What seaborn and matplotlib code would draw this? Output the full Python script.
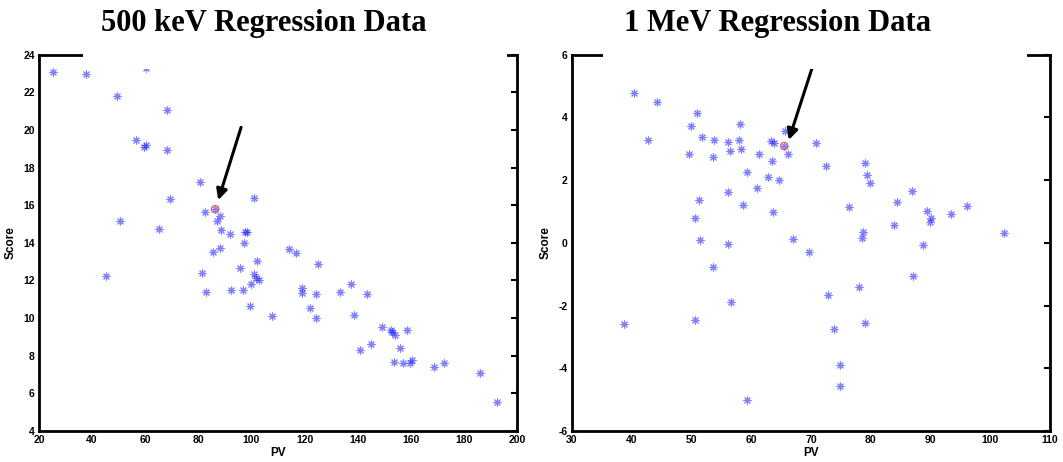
import numpy as np
import pandas as pd
import matplotlib
matplotlib.use("Agg")
import matplotlib.pyplot as plt
import seaborn as sns
from matplotlib.patches import Rectangle

# 500 keV panel
pv_500 = [25.4, 37.7, 49.2, 68.1, 56.6, 59.5, 60.2, 68.1, 80.6, 69.2, 100.8, 50.6,
          82.5, 86.3, 88.3, 86.9, 65.3, 88.6, 92.0, 97.6, 98.2, 60.2, 45.3, 85.6,
          88.3, 97.1, 81.5, 82.8, 92.2, 96.7, 95.8, 102.2, 101.0, 101.7, 102.9, 99.7,
          99.4, 107.8, 114.2, 116.9, 125.0, 119.1, 119.1, 124.2, 122.0, 124.2, 133.3,
          137.5, 143.5, 138.5, 149.3, 152.5, 153.0, 154.0, 158.4, 145.1, 140.7, 155.9,
          153.8, 157.2, 159.6, 160.6, 168.9, 172.5, 186.0, 192.4]
score_500 = [23.06, 22.99, 21.82, 21.06, 19.45, 19.10, 19.20, 18.91, 17.23, 16.33, 16.36, 15.15,
             15.65, 15.79, 15.42, 15.15, 14.74, 14.68, 14.45, 14.59, 14.59, 23.30, 12.23, 13.50,
             13.75, 13.97, 12.40, 11.41, 11.52, 11.48, 12.64, 13.06, 12.32, 12.14, 12.05, 11.82,
             10.62, 10.10, 13.67, 13.44, 12.85, 11.61, 11.36, 11.29, 10.56, 10.00, 11.41,
             11.79, 11.27, 10.14, 9.53, 9.39, 9.27, 9.11, 9.36, 8.63, 8.29, 8.41,
             7.67, 7.59, 7.64, 7.76, 7.39, 7.64, 7.07, 5.53]

# 1 MeV panel
pv_1m = [40.4, 44.3, 42.8, 51.0, 50.0, 51.8, 53.8, 49.6, 53.7, 56.1, 56.4, 57.9,
         58.2, 58.4, 59.3, 56.1, 58.7, 51.3, 50.7, 61.3, 62.8, 64.6, 61.0, 63.3,
         63.8, 63.5, 63.7, 65.7, 66.2, 65.55, 70.85, 72.6, 79.1, 79.4, 79.9, 87.0,
         84.4, 76.3, 96.05, 89.5, 90.1, 89.9, 93.4, 83.95, 78.7, 78.5, 102.3, 67.0,
         51.4, 56.1, 53.6, 56.6, 50.6, 38.7, 59.4, 69.7, 88.75, 87.1, 78.1, 72.9,
         73.9, 79.1, 74.9, 74.9]
score_1m = [4.77, 4.50, 3.28, 4.14, 3.73, 3.39, 3.28, 2.82, 2.74, 3.21, 2.93, 3.29,
            3.80, 2.98, 2.26, 1.63, 1.22, 1.38, 0.78, 2.83, 2.10, 2.00, 1.74, 3.26,
            3.18, 2.60, 0.97, 3.57, 2.82, 3.09, 3.17, 2.44, 2.54, 2.16, 1.90, 1.66,
            1.30, 1.15, 1.18, 1.00, 0.80, 0.66, 0.92, 0.58, 0.36, 0.16, 0.30, 0.13,
            0.09, -0.05, -0.78, -1.88, -2.47, -2.60, -5.02, -0.30, -0.08, -1.07, -1.42, -1.67,
            -2.74, -2.57, -3.90, -4.56]

# highlighted point and arrow (tail, head) per panel
hl_500 = (86.3, 15.79)
arrow_500 = ((96.1, 20.14), (87.5, 16.27))
hl_1m = (65.55, 3.09)
arrow_1m = ((70.2, 5.57), (66.3, 3.28))

panels = [
    ("500 keV Regression Data", pv_500, score_500, hl_500, arrow_500,
     (20, 200), np.arange(20, 201, 20), (4, 24), np.arange(4, 25, 2)),
    ("1 MeV Regression Data", pv_1m, score_1m, hl_1m, arrow_1m,
     (30, 110), np.arange(30, 111, 10), (-6, 6), np.arange(-6, 7, 2)),
]

sns.set_style("white")
plt.rcParams["font.family"] = ["Liberation Sans", "DejaVu Sans"]
plt.rcParams["axes.unicode_minus"] = False
plt.rcParams["text.color"] = "black"
plt.rcParams["axes.labelcolor"] = "black"
plt.rcParams["xtick.color"] = "black"
plt.rcParams["ytick.color"] = "black"

W, H = 1063, 462
fig = plt.figure(figsize=(W / 100, H / 100), dpi=100)
ax_boxes = [(39, 54.7, 517, 431), (571.7, 54.7, 1050, 431)]
title_x = [264, 778]
gaps = [(83, 507), (603, 1027)]

for (title, xs, ys, hl, arr, xlim, xt, ylim, yt), box, tx, gap in zip(panels, ax_boxes, title_x, gaps):
    x0, y0, x1, y1 = box
    ax = fig.add_axes([x0 / W, 1 - y1 / H, (x1 - x0) / W, (y1 - y0) / H])
    df = pd.DataFrame({"PV": xs, "Score": ys})
    sns.scatterplot(data=df, x="PV", y="Score", marker=(8, 2, 0), s=26,
                    color="#0000ff", edgecolor="#0000ff", linewidth=0.8, alpha=0.5, ax=ax)
    ax.scatter([hl[0]], [hl[1]], s=28, facecolors="none", edgecolors="#ff4040",
               linewidths=0.9, alpha=0.8, zorder=4)
    ax.annotate("", xy=arr[1], xytext=arr[0],
                arrowprops=dict(arrowstyle="-|>", color="black", lw=2.2,
                                mutation_scale=16, shrinkA=0, shrinkB=0))
    ax.set_xlim(*xlim)
    ax.set_ylim(*ylim)
    ax.set_xticks(xt)
    ax.set_yticks(yt)
    ax.tick_params(direction="in", length=4, width=1.5, top=True, right=True,
                   labelsize=7.5, pad=3)
    for lab in ax.get_xticklabels() + ax.get_yticklabels():
        lab.set_fontweight("bold")
    for sp in ax.spines.values():
        sp.set_linewidth(2)
        sp.set_color("black")
    ax.set_xlabel("PV", fontsize=8.5, fontweight="bold", labelpad=1)
    ax.set_ylabel("Score", fontsize=8.5, fontweight="bold", labelpad=5)

    # white block behind the title hides part of the top frame
    fig.patches.append(Rectangle((gap[0] / W, 1 - 69 / H), (gap[1] - gap[0]) / W, 69 / H,
                                 transform=fig.transFigure, facecolor="white",
                                 edgecolor="none", zorder=5))
    fig.text(tx / W, 1 - 23 / H, title, ha="center", va="center", fontsize=22,
             fontweight="bold", color="black",
             family=["Liberation Serif", "DejaVu Serif"], zorder=6)

fig.savefig("out.png", dpi=100)
